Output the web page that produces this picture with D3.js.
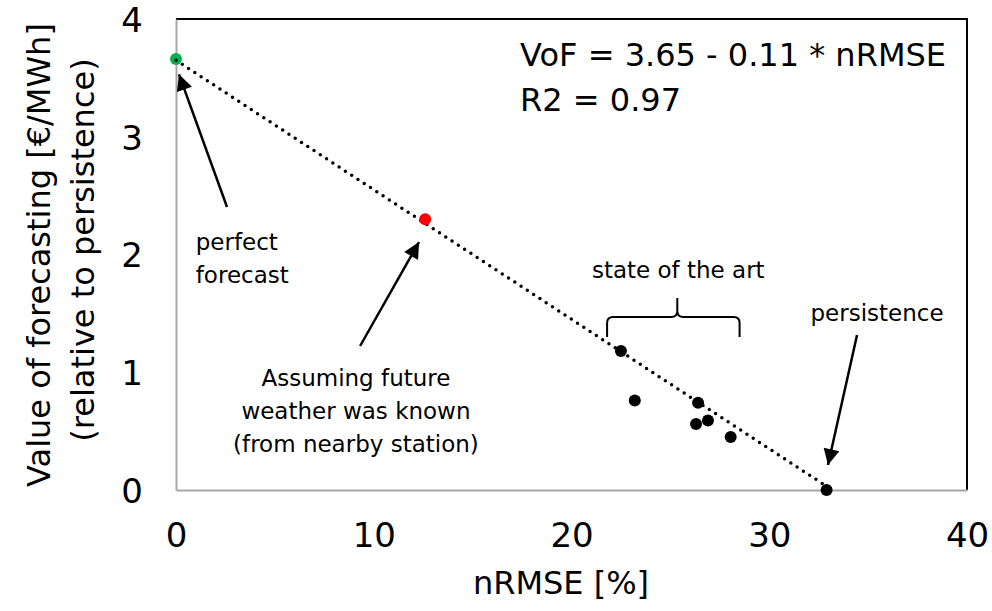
<!DOCTYPE html>
<html>
<head>
<meta charset="utf-8">
<script src="https://cdn.jsdelivr.net/npm/d3@7"></script>
<style>
  body { margin: 0; background: #fff; }
  svg { display: block; font-family: "DejaVu Sans", sans-serif; }
  .ann { font-size: 23px; fill: #000; }
  .big { font-size: 32px; fill: #000; }
  .ytitle { font-size: 32px; fill: #000; }
</style>
</head>
<body>
<svg id="chart"></svg>
<script>
// nRMSE [%] vs value of forecasting
var nrmse = [0, 12.6, 22.5, 23.2, 26.4, 26.3, 26.9, 28.05, 32.9];
var vof = [3.66, 2.30, 1.18, 0.76, 0.74, 0.56, 0.59, 0.45, 0.0];
var pointColors = ["#00b050", "#ff0000", "#000", "#000", "#000", "#000", "#000", "#000", "#000"];
var xTicks = [0, 10, 20, 30, 40];
var yTicks = [0, 1, 2, 3, 4];
var fitIntercept = 3.65;
var fitSlope = -0.11;

var width = 992, height = 611;
var svg = d3.select("#chart").attr("width", width).attr("height", height);

var x = d3.scaleLinear().domain([0, 40]).range([176, 967]);
var y = d3.scaleLinear().domain([0, 4]).range([490, 19]);

// arrow head
svg.append("defs").append("marker")
    .attr("id", "head")
    .attr("viewBox", "0 0 10 10")
    .attr("refX", 10).attr("refY", 5)
    .attr("markerUnits", "userSpaceOnUse")
    .attr("markerWidth", 22).attr("markerHeight", 16)
    .attr("orient", "auto")
    .append("path").attr("d", "M0,0L10,5L0,10Z").attr("fill", "#000");

// frame: top and right in black
svg.append("path")
    .attr("d", "M" + x(0) + "," + y(4) + "H" + x(40) + "V" + y(0))
    .attr("fill", "none").attr("stroke", "#000").attr("stroke-width", 2);

// axes
var xAxis = svg.append("g")
    .attr("transform", "translate(0," + y(0) + ")")
    .call(d3.axisBottom(x).tickValues(xTicks).tickFormat(d3.format("d")).tickSize(0).tickPadding(31));
xAxis.select(".domain").attr("stroke", "#a6a6a6").attr("stroke-width", 2);

var yAxis = svg.append("g")
    .attr("transform", "translate(" + x(0) + ",0)")
    .call(d3.axisLeft(y).tickValues(yTicks).tickFormat(d3.format("d")).tickSize(0).tickPadding(33));
yAxis.select(".domain").attr("stroke", "#a6a6a6").attr("stroke-width", 2);

svg.selectAll(".tick text")
    .style("font-size", "34px")
    .style("font-family", "'DejaVu Sans', sans-serif")
    .attr("fill", "#000");
yAxis.selectAll(".tick text").attr("dy", "0.36em");
xAxis.selectAll(".tick text").attr("dy", "0.75em");

// axis titles
svg.append("text").attr("class", "big")
    .attr("x", 561).attr("y", 594)
    .attr("text-anchor", "middle")
    .text("nRMSE [%]");

svg.append("text").attr("class", "ytitle")
    .attr("transform", "translate(50,255) rotate(-90)")
    .attr("text-anchor", "middle")
    .text("Value of forecasting [€/MWh]");
svg.append("text").attr("class", "ytitle")
    .attr("transform", "translate(94,250) rotate(-90)")
    .attr("text-anchor", "middle")
    .text("(relative to persistence)");

// fitted line
var fitX = [0, nrmse[nrmse.length - 1]];
svg.append("path")
    .attr("d", d3.line()
        .x(function(d) { return x(d); })
        .y(function(d) { return y(fitIntercept + fitSlope * d); })(fitX))
    .attr("fill", "none")
    .attr("stroke", "#000")
    .attr("stroke-width", 3.5)
    .attr("stroke-linecap", "round")
    .attr("stroke-dasharray", "0,7.5");

// points
svg.selectAll(".pt")
    .data(nrmse)
    .enter().append("circle")
    .attr("class", "pt")
    .attr("cx", function(d) { return x(d); })
    .attr("cy", function(d, i) { return y(vof[i]); })
    .attr("r", 6)
    .attr("fill", function(d, i) { return pointColors[i]; });
// dotted line passes over the green point
svg.append("circle").attr("cx", x(0)).attr("cy", y(fitIntercept)).attr("r", 1.7).attr("fill", "#000");

// equation
svg.append("text").attr("class", "big")
    .attr("x", x(17.4)).attr("y", y(3.60))
    .text("VoF = 3.65 - 0.11 * nRMSE");
svg.append("text").attr("class", "big")
    .attr("x", x(17.4)).attr("y", y(3.219))
    .text("R2 = 0.97");

// annotations
var arrows = [
    [[2.58, 2.403], [0.15, 3.53]],
    [[9.31, 1.223], [12.29, 2.106]],
    [[34.44, 1.316], [32.97, 0.212]]
];
svg.selectAll(".arrow")
    .data(arrows)
    .enter().append("line")
    .attr("class", "arrow")
    .attr("x1", function(d) { return x(d[0][0]); })
    .attr("y1", function(d) { return y(d[0][1]); })
    .attr("x2", function(d) { return x(d[1][0]); })
    .attr("y2", function(d) { return y(d[1][1]); })
    .attr("stroke", "#000")
    .attr("stroke-width", 2.5)
    .attr("marker-end", "url(#head)");

function multiline(lines, px, py, anchor) {
    var t = svg.append("text").attr("class", "ann")
        .attr("x", x(px)).attr("y", y(py))
        .attr("text-anchor", anchor);
    lines.forEach(function(s, i) {
        t.append("tspan").attr("x", x(px)).attr("dy", i == 0 ? 0 : 33).text(s);
    });
}
multiline(["perfect", "forecast"], 1.0, 2.038, "start");
multiline(["Assuming future", "weather was known", "(from nearby station)"], 9.1, 0.883, "middle");
multiline(["state of the art"], 25.4, 1.80, "middle");
multiline(["persistence"], 35.45, 1.435, "middle");

// curly bracket over state of the art points
var bx0 = x(21.8), bx1 = x(28.5), bm = x(25.35);
var bEnd = y(1.30), bTop = y(1.469), bPeak = y(1.63);
svg.append("path")
    .attr("d", "M" + bx0 + "," + bEnd +
        "V" + (bTop + 6) + "Q" + bx0 + "," + bTop + " " + (bx0 + 6) + "," + bTop +
        "H" + (bm - 6) + "Q" + bm + "," + bTop + " " + bm + "," + (bTop - 6) +
        "V" + bPeak +
        "M" + bm + "," + (bTop - 6) + "Q" + bm + "," + bTop + " " + (bm + 6) + "," + bTop +
        "H" + (bx1 - 6) + "Q" + bx1 + "," + bTop + " " + bx1 + "," + (bTop + 6) +
        "V" + bEnd)
    .attr("fill", "none").attr("stroke", "#000").attr("stroke-width", 2);
</script>
</body>
</html>
